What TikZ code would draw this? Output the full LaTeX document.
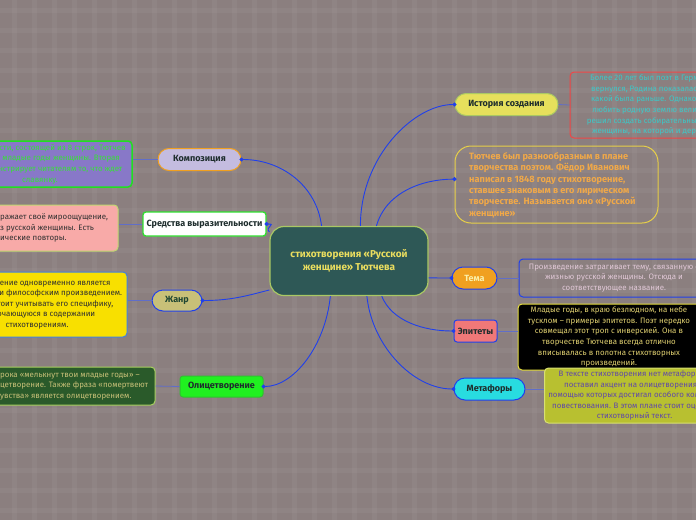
\documentclass[tikz,border=0pt]{standalone}
\usepackage{fontspec}
\setmainfont{Fira Sans}
\usetikzlibrary{arrows.meta}

\definecolor{bgc}{RGB}{139,127,127}
\definecolor{branchc}{RGB}{32,64,235}
\definecolor{twigc}{RGB}{96,110,200}
\definecolor{txtdark}{RGB}{30,45,45}
\definecolor{tealc}{RGB}{46,88,86}
\definecolor{limec}{RGB}{170,200,100}
\definecolor{poemtxt}{RGB}{235,222,95}
\definecolor{histfill}{RGB}{230,224,92}
\definecolor{histline}{RGB}{240,70,70}
\definecolor{histtxt}{RGB}{60,200,200}
\definecolor{tyutline}{RGB}{232,208,72}
\definecolor{tyuttxt}{RGB}{240,168,72}
\definecolor{temafill}{RGB}{240,160,32}
\definecolor{tematxt}{RGB}{250,240,170}
\definecolor{temaboxtxt}{RGB}{225,200,215}
\definecolor{epitfill}{RGB}{240,120,120}
\definecolor{epitline}{RGB}{232,224,64}
\definecolor{epittxt}{RGB}{224,208,112}
\definecolor{metafill}{RGB}{40,220,224}
\definecolor{metaboxfill}{RGB}{184,192,48}
\definecolor{metaboxline}{RGB}{216,224,112}
\definecolor{metatxt}{RGB}{96,72,168}
\definecolor{compfill}{RGB}{196,188,224}
\definecolor{compline}{RGB}{240,160,32}
\definecolor{compboxfill}{RGB}{136,120,200}
\definecolor{compboxline}{RGB}{32,224,32}
\definecolor{comptxt}{RGB}{56,224,56}
\definecolor{sredline}{RGB}{48,224,48}
\definecolor{sredboxfill}{RGB}{248,170,168}
\definecolor{sredboxline}{RGB}{192,216,112}
\definecolor{greytxt}{RGB}{48,48,48}
\definecolor{zhanrfill}{RGB}{200,192,120}
\definecolor{zhanrtxt}{RGB}{30,70,50}
\definecolor{zhanrboxfill}{RGB}{248,224,0}
\definecolor{zhanrboxline}{RGB}{64,128,224}
\definecolor{olicfill}{RGB}{32,240,32}
\definecolor{olicline}{RGB}{48,192,48}
\definecolor{olicboxfill}{RGB}{42,90,42}
\definecolor{olicboxline}{RGB}{168,208,96}
\definecolor{olictxt}{RGB}{200,192,120}

\tikzset{
  topic/.style={draw, line width=1pt, inner sep=0pt, minimum height=22pt,
    font=\fontsize{9}{10}\selectfont\bfseries, text=txtdark},
  pill/.style={topic, rounded corners=11pt},
  tab/.style={topic, rounded corners=3pt},
  detail/.style={draw, line width=1pt, rounded corners=4pt, inner sep=0pt,
    align=center, font=\fontsize{7.9}{10.6}\selectfont},
  branch/.style={draw=branchc, line width=0.9pt, -{Circle[length=4pt]}, shorten >=-2pt},
  twig/.style={draw=twigc, line width=0.8pt}
}

\begin{document}
\begin{tikzpicture}[x=1pt, y=-1pt]

  % ==================================================
  % фон
  % ==================================================
  \useasboundingbox (0,0) rectangle (696,520);
  \clip (0,0) rectangle (696,520);
  \fill[bgc] (0,0) rectangle (696,520);

  % клетка
  \foreach \s in {0,20,...,700} {
    \fill[white, opacity=0.04] (\s+12,0) rectangle (\s+17,520);
    \fill[white, opacity=0.04] (0,\s+8) rectangle (696,\s+13);
  }

  % ==================================================
  % центр
  % ==================================================
  \node[draw=limec, fill=tealc, line width=1.2pt, rounded corners=14pt,
    minimum width=158pt, minimum height=69pt, align=center,
    font=\fontsize{10}{13.5}\selectfont\bfseries, text=poemtxt]
    (poem) at (349,261) {стихотворения «Русской\\женщине» Тютчева};

  % ==================================================
  % правая сторона
  % ==================================================

  % история создания
  \node[pill, fill=histfill, draw=limec, minimum width=103pt]
    (hist) at (506.5,104.5) {История создания};
  \node[detail, draw=histline, text=histtxt, minimum width=204pt, minimum height=66pt]
    (histbox) at (672,105)
    {Более 20 лет был поэт в Германии. Когда он\\
     вернулся, Родина показалась ему не такой,\\
     какой была раньше. Однако это не мешало\\
     любить родную землю великому поэту. Он\\
     решил создать собирательный образ русской\\
     женщины, на которой и держалась Россия.};

  % Тютчев
  \node[draw=tyutline, line width=1pt, rounded corners=16pt,
    minimum width=203pt, minimum height=77pt, inner sep=0pt]
    (tyut) at (556.5,184.5) {};
  \node[anchor=west, align=left, inner sep=0pt, text=tyuttxt,
    font=\fontsize{9.2}{11.4}\selectfont\bfseries]
    (tyuttext) at (469,185)
    {Тютчев был разнообразным в плане\\
     творчества поэтом. Фёдор Иванович\\
     написал в 1848 году стихотворение,\\
     ставшее знаковым в его лирическом\\
     творчестве. Называется оно «Русской\\
     женщине»};

  % тема
  \node[pill, fill=temafill, draw=branchc, minimum width=45pt, text=tematxt]
    (tema) at (474.5,278) {Тема};
  \node[detail, draw=branchc, text=temaboxtxt, minimum width=190pt, minimum height=38pt]
    (temabox) at (614,278)
    {Произведение затрагивает тему, связанную с\\
     жизнью русской женщины. Отсюда и\\
     соответствующее название.};

  % эпитеты
  \node[tab, fill=epitfill, draw=branchc, minimum width=43pt]
    (epit) at (475.5,331) {Эпитеты};
  \node[detail, fill=black, draw=epitline, text=epittxt,
    minimum width=182pt, minimum height=66pt]
    (epitbox) at (609,337)
    {Младые годы, в краю безлюдном, на небе\\
     тусклом – примеры эпитетов. Поэт нередко\\
     совмещал этот троп с инверсией. Она в\\
     творчестве Тютчева всегда отлично\\
     вписывалась в полотна стихотворных\\
     произведений.};

  % метафоры
  \node[pill, fill=metafill, draw=branchc, minimum width=71pt]
    (meta) at (489.5,389) {Метафоры};
  \node[detail, fill=metaboxfill, draw=metaboxline, text=metatxt,
    minimum width=180pt, minimum height=55pt]
    (metabox) at (634.5,395.5)
    {В тексте стихотворения нет метафор. Он\\
     поставил акцент на олицетворения, с\\
     помощью которых достигал особого колорита\\
     повествования. В этом плане стоит оценить\\
     стихотворный текст.};

  % ==================================================
  % левая сторона
  % ==================================================

  % композиция
  \node[pill, fill=compfill, draw=compline, minimum width=83pt]
    (comp) at (199.5,159.5) {Композиция};
  \node[detail, fill=compboxfill, draw=compboxline, line width=1.5pt, text=comptxt,
    minimum width=184pt, minimum height=46pt]
    (compbox) at (40,164)
    {В первой части, состоящей из 8 строк, Тютчев\\
     описывает младые годы женщины. Вторая\\
     часть демонстрирует читателям то, что ждет\\
     славянку.};

  % средства выразительности
  \node[tab, fill=white, draw=sredline, line width=1.3pt,
    minimum width=123pt, minimum height=24pt]
    (sred) at (204.5,224) {Средства выразительности};
  \node[detail, fill=sredboxfill, draw=sredboxline,
    minimum width=128pt, minimum height=46pt]
    (sredbox) at (54,228) {};
  \node[anchor=west, align=left, inner sep=0pt, text=greytxt,
    font=\fontsize{7.9}{10.6}\selectfont]
    (sredtext) at (0,228)
    {\llap{Тютчев вы}ражает своё мироощущение,\\
     \llap{через обра}з русской женщины. Есть\\
     \llap{и лекс}ические повторы.};

  % жанр
  \node[pill, fill=zhanrfill, draw=branchc, minimum width=50pt,
    minimum height=21pt, text=zhanrtxt]
    (zhanr) at (177,300.5) {Жанр};
  \node[detail, fill=zhanrboxfill, draw=zhanrboxline, text=greytxt,
    minimum width=180pt, minimum height=65pt]
    (zhanrbox) at (37,304.5)
    {Произведение одновременно является\\
     лирическим и философским произведением.\\
     Поэтому стоит учитывать его специфику,\\
     заключающуюся в содержании\\
     стихотворениям.};

  % олицетворение
  \node[tab, fill=olicfill, draw=olicline, minimum width=83pt, minimum height=21pt]
    (olic) at (221.5,386.5) {Олицетворение};
  \node[detail, fill=olicboxfill, draw=olicboxline,
    minimum width=170pt, minimum height=38pt]
    (olicbox) at (70,386) {};
  \node[anchor=west, align=left, inner sep=0pt, text=olictxt,
    font=\fontsize{7.9}{10.6}\selectfont]
    (olictext) at (0,386)
    {\llap{Ст}рока «мелькнут твои младые годы» –\\
     \llap{оли}цетворение. Также фраза «помертвеют\\
     \llap{ч}увства» является олицетворением.};

  % ==================================================
  % ветви от центра
  % ==================================================
  \draw[branch] (poem.72)   .. controls +(0,-70) and +(-40,0) .. (hist.west);
  \draw[branch] (poem.52)   .. controls +(10,-35) and +(-30,0) .. (tyut.177);
  \draw[branch] (poem.-12)  .. controls +(10,0) and +(-10,0) .. (tema.west);
  \draw[branch] (poem.-47)  .. controls +(10,25) and +(-30,0) .. (epit.west);
  \draw[branch] (poem.-63)  .. controls +(5,50) and +(-40,0) .. (meta.west);
  \draw[branch] (poem.128)  .. controls +(-5,-40) and +(40,0) .. (comp.east);
  \draw[branch] (poem.160)  .. controls +(-5,-5) and +(10,0) .. (sred.east);
  \draw[branch] (poem.200)  .. controls +(-20,5) and +(30,0) .. (zhanr.east);
  \draw[branch] (poem.-118) .. controls +(-5,50) and +(30,0) .. (olic.east);

  % от тем к пояснениям
  \draw[twig] (hist.east) -- (histbox.west);
  \draw[twig] (tema.east) -- (temabox.west);
  \draw[twig] (epit.east) -- (epitbox.west |- epit.east);
  \draw[twig] (meta.east) -- (metabox.west |- meta.east);
  \draw[twig] (comp.west) -- (compbox.east |- comp.west);
  \draw[twig] (sred.west) -- (sredbox.east |- sred.west);
  \draw[twig] (zhanr.west) -- (zhanrbox.east |- zhanr.west);
  \draw[twig] (olic.west) -- (olicbox.east);

\end{tikzpicture}
\end{document}
